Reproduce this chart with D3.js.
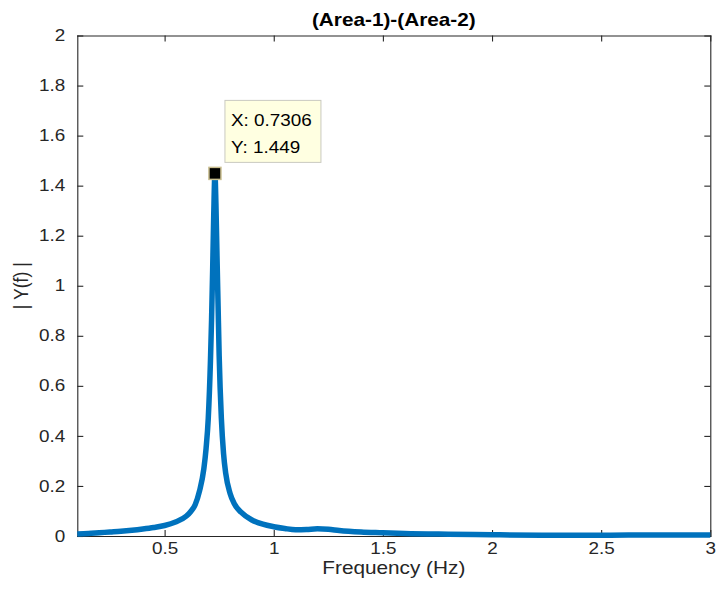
<!DOCTYPE html>
<html>
<head>
<meta charset="utf-8">
<script src="https://cdn.jsdelivr.net/npm/d3@7"></script>
<style>
  html, body { margin: 0; padding: 0; background: #fff; }
  svg { display: block; }
  text { font-family: "Liberation Sans", Arial, Helvetica, sans-serif; }
</style>
</head>
<body>
<svg id="chart" width="717" height="601"></svg>
<script>
// Spectrum magnitude |Y(f)| of the inter-area signal
const freq = [0.1, 0.15, 0.2, 0.25, 0.3, 0.35, 0.4, 0.45, 0.5, 0.55, 0.6, 0.62, 0.64, 0.66, 0.68, 0.69, 0.70, 0.71, 0.715, 0.72, 0.725, 0.7306, 0.735, 0.74, 0.745, 0.75, 0.76, 0.77, 0.78, 0.80, 0.82, 0.85, 0.90, 0.95, 1.0, 1.05, 1.1, 1.15, 1.2, 1.25, 1.3, 1.4, 1.5, 1.6, 1.8, 2.0, 2.25, 2.5, 2.75, 3.0];
const magnitude = [0.008, 0.010, 0.013, 0.016, 0.019, 0.023, 0.028, 0.034, 0.042, 0.056, 0.080, 0.098, 0.125, 0.18, 0.27, 0.35, 0.47, 0.70, 0.86, 1.06, 1.28, 1.449, 1.33, 1.12, 0.92, 0.72, 0.47, 0.33, 0.25, 0.17, 0.128, 0.095, 0.064, 0.047, 0.037, 0.030, 0.025, 0.026, 0.029, 0.027, 0.022, 0.016, 0.013, 0.010, 0.007, 0.005, 0.003, 0.003, 0.004, 0.004];

const xTicks = [0.5, 1, 1.5, 2, 2.5, 3];
const xTickLabels = ["0.5", "1", "1.5", "2", "2.5", "3"];
const yTicks = [0, 0.2, 0.4, 0.6, 0.8, 1, 1.2, 1.4, 1.6, 1.8, 2];
const yTickLabels = ["0", "0.2", "0.4", "0.6", "0.8", "1", "1.2", "1.4", "1.6", "1.8", "2"];

// Data cursor on the peak
const tipX = 0.7306;
const tipY = 1.449;
const tipLines = ["X: 0.7306", "Y: 1.449"];

const titleText = "(Area-1)-(Area-2)";
const xLabelText = "Frequency (Hz)";
const yLabelText = "| Y(f) |";

const box = { left: 77.3, right: 710.3, top: 35.5, bottom: 536 };
const stretch = 1.18;          // glyphs are drawn a little wider than tall
const axisColor = "#262626";

const svg = d3.select("#chart");

const x = d3.scaleLinear().domain([0.1, 3]).range([box.left, box.right]);
const y = d3.scaleLinear().domain([0, 2]).range([box.bottom, box.top]);

// Axes box with inward ticks on all four sides
const tick = 6;
function styleAxis(g) {
  g.select(".domain").attr("stroke", axisColor).attr("stroke-width", 1.1);
  g.selectAll(".tick line").attr("stroke", axisColor).attr("stroke-width", 1.1);
}

const gx = svg.append("g")
  .attr("transform", `translate(0,${box.bottom})`)
  .call(d3.axisBottom(x).tickValues(xTicks).tickFormat((d, i) => xTickLabels[i])
    .tickSizeInner(-tick).tickSizeOuter(0).tickPadding(7))
  .call(styleAxis);
gx.selectAll(".tick text")
  .attr("fill", axisColor).attr("font-size", 16)
  .attr("transform", `scale(${stretch},1)`);

svg.append("g")
  .attr("transform", `translate(0,${box.top})`)
  .call(d3.axisTop(x).tickValues(xTicks).tickFormat("")
    .tickSizeInner(-tick).tickSizeOuter(0))
  .call(styleAxis);

const gy = svg.append("g")
  .attr("transform", `translate(${box.left},0)`)
  .call(d3.axisLeft(y).tickValues(yTicks).tickFormat((d, i) => yTickLabels[i])
    .tickSizeInner(-tick).tickSizeOuter(0).tickPadding(12))
  .call(styleAxis);
gy.selectAll(".tick text")
  .attr("fill", axisColor).attr("font-size", 16)
  .attr("x", -12 / stretch)
  .attr("transform", `scale(${stretch},1)`);

svg.append("g")
  .attr("transform", `translate(${box.right},0)`)
  .call(d3.axisRight(y).tickValues(yTicks).tickFormat("")
    .tickSizeInner(-tick).tickSizeOuter(0))
  .call(styleAxis);

svg.selectAll(".domain").attr("stroke-linecap", "square");

// Spectrum curve
const pts = freq.map((f, i) => [f, magnitude[i]]);
const line = d3.line()
  .x(d => x(d[0]))
  .y(d => y(d[1]))
  .curve(d3.curveMonotoneX);

svg.append("path")
  .datum(pts)
  .attr("d", line)
  .attr("fill", "none")
  .attr("stroke", "#0072BD")
  .attr("stroke-width", 5.5)
  .attr("stroke-linejoin", "round")
  .attr("stroke-linecap", "butt");

// Data cursor marker
const ms = 12;
svg.append("rect")
  .attr("x", x(tipX) - ms / 2)
  .attr("y", y(tipY) - ms / 2)
  .attr("width", ms).attr("height", ms)
  .attr("fill", "#000")
  .attr("stroke", "#c8bd8e")
  .attr("stroke-width", 1.5);

// Data cursor label
const tipG = svg.append("g")
  .attr("transform", `translate(${x(tipX) + 10},${y(tipY) - 73})`);
tipG.append("rect")
  .attr("x", 0).attr("y", 0)
  .attr("width", 96).attr("height", 62)
  .attr("fill", "#ffffe1")
  .attr("stroke", "#c9c9c0")
  .attr("stroke-width", 1);
tipG.selectAll("text.tip")
  .data(tipLines)
  .join("text")
  .attr("class", "tip")
  .attr("transform", (d, i) => `translate(6,${26 + i * 27}) scale(${stretch},1)`)
  .attr("font-size", 16)
  .attr("fill", "#000")
  .text(d => d);

// Title and axis labels
const cx = (box.left + box.right) / 2;
svg.append("text")
  .attr("transform", `translate(${cx},26) scale(${stretch},1)`)
  .attr("text-anchor", "middle")
  .attr("font-size", 17.6)
  .attr("font-weight", "bold")
  .attr("fill", "#000")
  .text(titleText);

svg.append("text")
  .attr("transform", `translate(${cx},${box.bottom + 38}) scale(${stretch},1)`)
  .attr("text-anchor", "middle")
  .attr("font-size", 17.6)
  .attr("fill", axisColor)
  .text(xLabelText);

svg.append("text")
  .attr("transform", `translate(28,${(box.top + box.bottom) / 2}) rotate(-90) scale(1,${stretch})`)
  .attr("text-anchor", "middle")
  .attr("font-size", 17.6)
  .attr("fill", axisColor)
  .text(yLabelText);
</script>
</body>
</html>
